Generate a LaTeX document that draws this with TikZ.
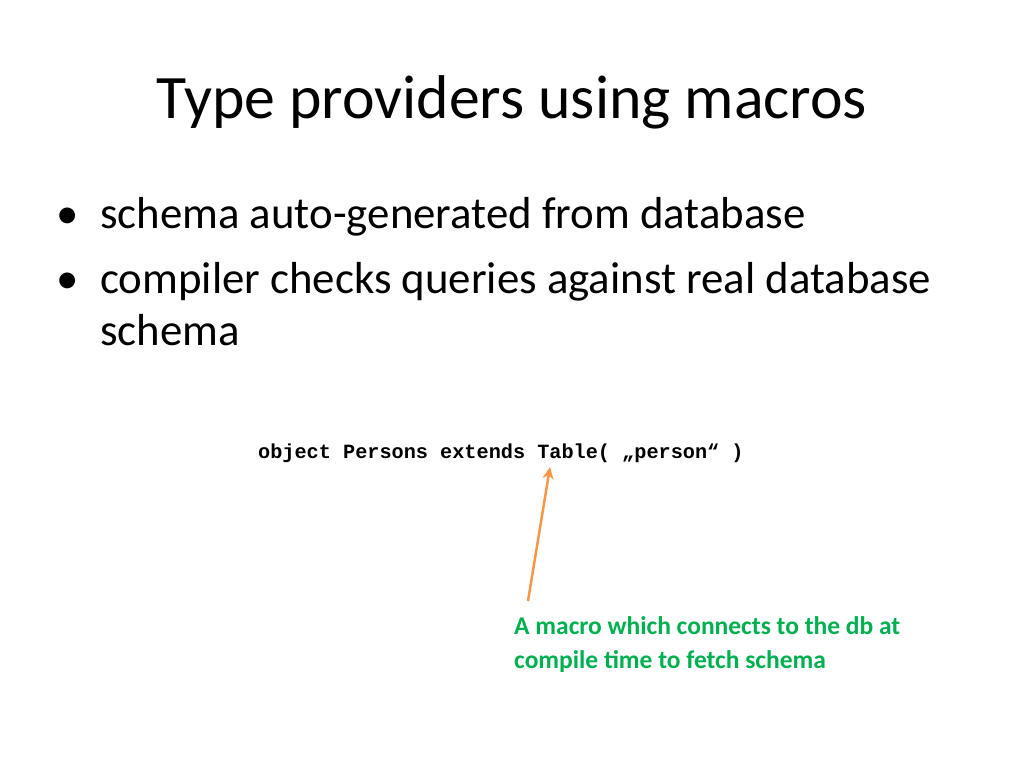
\documentclass[tikz,border=0pt]{standalone}
\usepackage{fontspec}
\setmainfont{Carlito}
\newfontfamily\codefont{Liberation Mono}
\usetikzlibrary{arrows.meta}
\definecolor{grn}{RGB}{0,176,80}
\definecolor{org}{RGB}{247,150,70}
\begin{document}
\begin{tikzpicture}[x=1bp,y=-1bp,
  body/.style={anchor=base west,inner sep=0,font=\fontsize{45}{52}\selectfont},
  note/.style={anchor=base west,inner sep=0,text=grn,font=\bfseries\fontsize{25.6}{34}\selectfont}]
\useasboundingbox (0,0) rectangle (1024,768);
\node[anchor=base,inner sep=0,font=\fontsize{62}{70}\selectfont] (title) at (512,118) {Type providers using macros};
\node[body] (d1) at (56,228) {•};
\node[body] (b1) at (100,228) {schema auto-generated from database};
\node[body] (d2) at (56,293) {•};
\node[body] (b2) at (100,293) {compiler checks queries against real database};
\node[body] (b3) at (100,345) {schema};
\node[anchor=base west,inner sep=0,font=\codefont\bfseries\fontsize{20.3}{24}\selectfont] (code) at (258,458) {object Persons extends Table( „person“ )};
\node[note] (n1) at (514,634) {A macro which connects to the db at};
\node[note] (n2) at (514,668) {compile time to fetch schema};
\coordinate (tail) at (528,601);
\coordinate (tip) at (550,467);
\draw[org,line width=2.5,-{Stealth[length=12,width=11]}] (tail) -- (tip);
\end{tikzpicture}
\end{document}
